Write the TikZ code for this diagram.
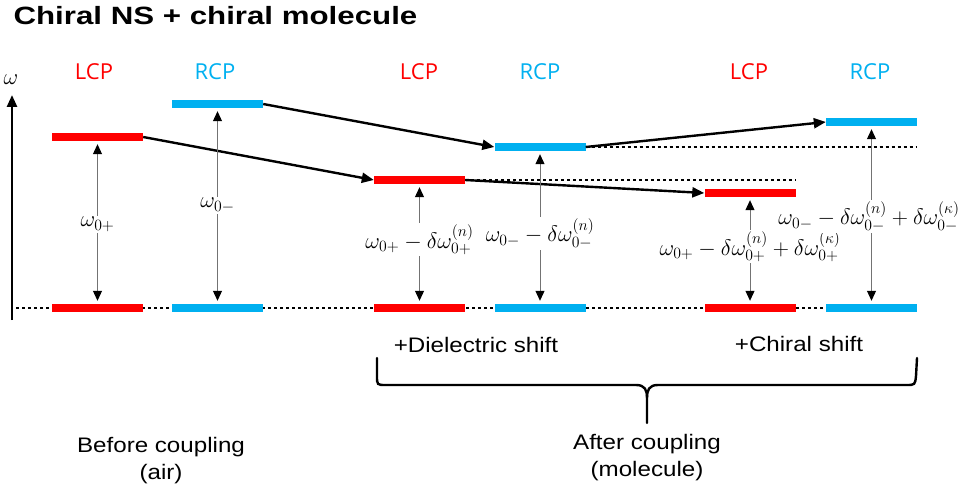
\RequirePackage{fix-cm}
\documentclass[tikz,border=0pt]{standalone}
\usepackage{amsmath,amssymb}
\usepackage{fontspec}
\setmainfont{Liberation Sans}[FakeStretch=1.15]
\newfontfamily\titlefont{Liberation Sans}[FakeStretch=1.25]
\newfontfamily\polfont{Open Sans}
\usetikzlibrary{arrows.meta}
\usetikzlibrary{backgrounds}

\definecolor{lcpred}{RGB}{255,0,0}
\definecolor{rcpblue}{RGB}{0,176,240}

\begin{document}
\begin{tikzpicture}[x=1pt, y=-1pt,
    lcp/.style={rectangle, fill=lcpred, minimum width=91pt, minimum height=8pt, inner sep=0pt},
    rcp/.style={rectangle, fill=rcpblue, minimum width=91pt, minimum height=8pt, inner sep=0pt},
    pol/.style={anchor=base, font=\polfont\fontsize{22}{26}\selectfont},
    freq/.style={anchor=base, fill=white, inner sep=1pt, font=\fontsize{22.5}{26}\selectfont},
    gap/.style={{Triangle[length=10pt,width=9pt,color=black]}-{Triangle[length=10pt,width=9pt,color=black]}, black!55, line width=1pt, shorten <=3pt, shorten >=3pt},
    shiftarrow/.style={-{Triangle[length=12pt,width=10pt]}, line width=2.4pt},
    guide/.style={line width=2.4pt, dash pattern=on 3pt off 3pt},
    txt/.style={anchor=base, font=\fontsize{21}{27}\selectfont}]
    \useasboundingbox (0,0) rectangle (963,486);

    \node (title) at (10,25) [anchor=base west, font=\titlefont\bfseries\fontsize{25}{30}\selectfont] {Chiral NS + chiral molecule};

    % frequency axis
    \coordinate (O) at (12,320);
    \coordinate (Top) at (12,95);
    \draw [-{Triangle[length=12pt,width=10pt]}, line width=2.6pt] (O) -- (Top);
    \node (w) at (11,80) [font=\fontsize{22.5}{26}\selectfont] {$\omega$};

    % levels
    \node (R0) at (97.5,137) [lcp] {};
    \node (B0) at (217.5,104) [rcp] {};
    \node (R1) at (419.5,180) [lcp] {};
    \node (B1) at (540,147) [rcp] {};
    \node (R2) at (750,193) [lcp] {};
    \node (B2) at (871.5,122) [rcp] {};

    \node (R0g) at (97.5,308) [lcp] {};
    \node (B0g) at (217.5,308) [rcp] {};
    \node (R1g) at (419.5,308) [lcp] {};
    \node (B1g) at (540,308) [rcp] {};
    \node (R2g) at (750,308) [lcp] {};
    \node (B2g) at (871.5,308) [rcp] {};

    \begin{scope}[on background layer]
    \coordinate (G) at (16,308);
    \draw [guide] (G) -- (B2g.east);
    \end{scope}
    \draw [guide] (R1.east) -- (R1.east -| R2.east);
    \draw [guide] (B1.east) -- (B1.east -| B2.east);

    \node (LCP0) at (94,80) [pol, lcpred] {LCP};
    \node (RCP0) at (215,80) [pol, rcpblue] {RCP};
    \node (LCP1) at (419,80) [pol, lcpred] {LCP};
    \node (RCP1) at (540,80) [pol, rcpblue] {RCP};
    \node (LCP2) at (749,80) [pol, lcpred] {LCP};
    \node (RCP2) at (870,80) [pol, rcpblue] {RCP};

    \draw [shiftarrow] (R0.east) -- (R1.west);
    \draw [shiftarrow] (B0.east) -- (B1.west);
    \draw [shiftarrow] (R1.east) -- (R2.west);
    \draw [shiftarrow] (B1.east) -- (B2.west);

    \draw [gap] (R0) -- (R0g);
    \draw [gap] (B0) -- (B0g);
    \draw [gap] (R1) -- (R1g);
    \draw [gap] (B1) -- (B1g);
    \draw [gap] (R2) -- (R2g);
    \draw [gap] (B2) -- (B2g);

    \node (f0) at (97.5,227) [freq] {$\omega_{0+}$};
    \node (f1) at (217.5,208) [freq] {$\omega_{0-}$};
    \node (f2) at (419.5,248) [freq] {$\omega_{0+}-\delta\omega_{0+}^{(n)}$};
    \node (f3) at (540,242) [freq] {$\omega_{0-}-\delta\omega_{0-}^{(n)}$};
    \node (f4) at (750,255) [freq] {$\omega_{0+}-\delta\omega_{0+}^{(n)}+\delta\omega_{0+}^{(\kappa)}$};
    \node (f5) at (869,225) [freq] {$\omega_{0-}-\delta\omega_{0-}^{(n)}+\delta\omega_{0-}^{(\kappa)}$};

    \node (diel) at (476,352) [txt] {+Dielectric shift};
    \node (chir) at (799,351) [txt] {+Chiral shift};

    % brace
    \draw [line width=2.4pt, line cap=round] (377,358) -- (377,376) .. controls (377,385) .. (386,385) -- (636,385) .. controls (645,385) and (647,390) .. (647,398) -- (647,423);
    \draw [line width=2.4pt, line cap=round] (917,358) -- (916,376) .. controls (915,385) .. (906,385) -- (658,385) .. controls (649,385) and (647,390) .. (647,398);

    \node (before) at (161,452) [txt] {Before coupling};
    \node (air) at (161,479) [txt] {(air)};
    \node (after) at (647,449) [txt] {After coupling};
    \node (mol) at (647,476) [txt] {(molecule)};
\end{tikzpicture}
\end{document}
